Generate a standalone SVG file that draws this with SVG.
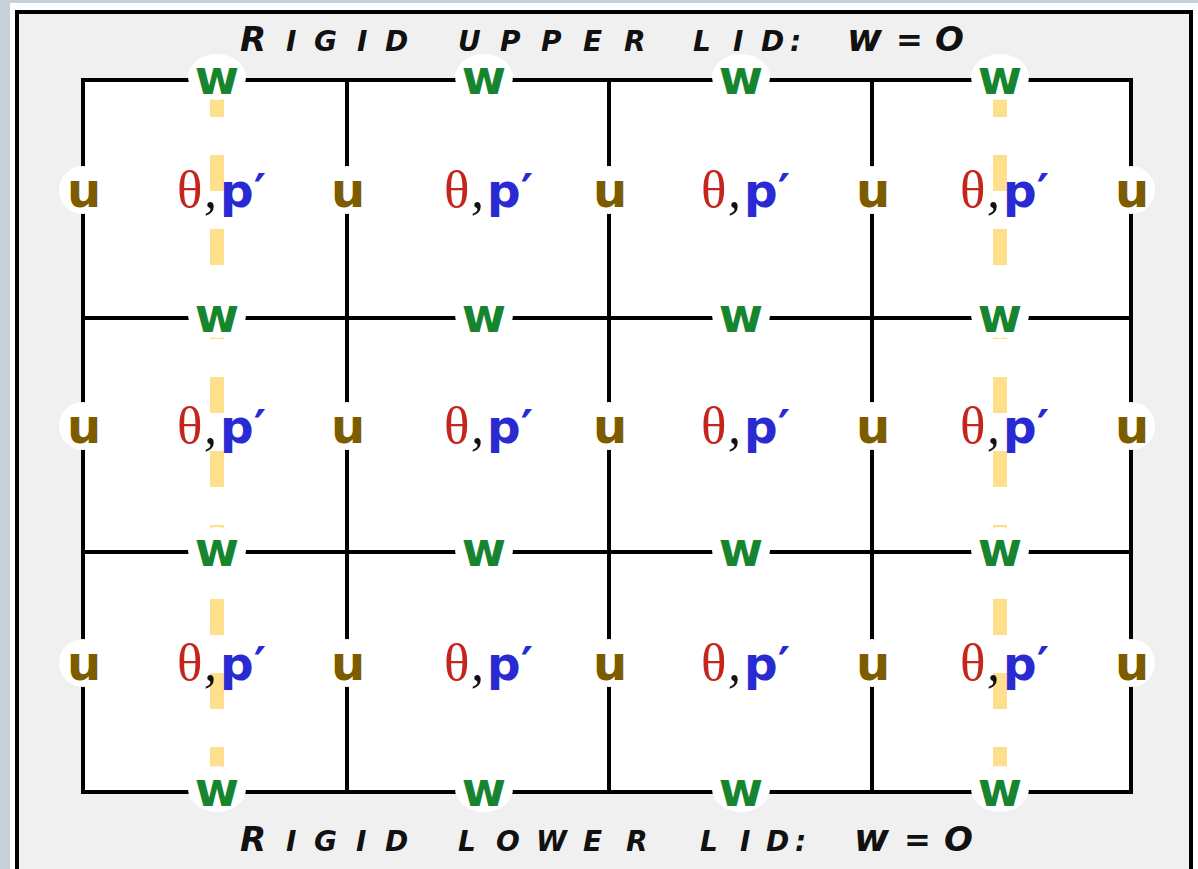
<svg xmlns="http://www.w3.org/2000/svg" width="1198" height="869" viewBox="0 0 1198 869">
<style>
.w{font-family:"DejaVu Sans",Verdana,sans-serif;font-weight:bold;font-size:48px;fill:#17852f;text-anchor:middle}
.u{font-family:"DejaVu Sans",Verdana,sans-serif;font-weight:bold;font-size:48px;fill:#7d5c00;text-anchor:middle}
.th{font-family:"Liberation Serif",serif;font-size:53px;fill:#c4261d}
.cm{font-family:"Liberation Serif",serif;font-style:italic;font-size:52px;fill:#111}
.p{font-family:"DejaVu Sans",Verdana,sans-serif;font-weight:bold;font-size:47px;fill:#2a2ad2}
.halo{fill:#fff}
.grid{stroke:#000;stroke-width:4;fill:none}
.dash{stroke:#fddf8c;stroke-width:14;stroke-dasharray:36 38;fill:none}
.title{font-family:"DejaVu Sans",sans-serif;font-weight:bold;font-style:oblique;fill:#111}
.big{font-size:34px}
.sm{font-size:28px}
.lw{font-size:38px}
.eq{font-size:32px}
</style>
<rect x="0" y="0" width="1198" height="869" fill="#fff"/>
<rect x="0" y="0" width="10" height="869" fill="#c6d1da"/>
<rect x="0" y="0" width="1198" height="3" fill="#c6d1da"/>
<rect x="17" y="12" width="1174" height="900" fill="#f0f0f0" stroke="#000" stroke-width="4"/>
<g id="title-upper">
<text class="title" y="51"><tspan class="big" x="240">R</tspan><tspan class="sm" x="286 314 357 385">IGID</tspan><tspan class="sm" x="430 458 500 541 583 624"> UPPER</tspan><tspan class="sm" x="670 693 733 761 790"> LID:</tspan><tspan class="lw" x="820 847"> w</tspan><tspan class="eq" x="884 896"> =</tspan><tspan class="big" x="927 935"> O</tspan></text>
</g>
<g id="title-lower">
<text class="title" y="851"><tspan class="big" x="240">R</tspan><tspan class="sm" x="286 314 356 385">IGID</tspan><tspan class="sm" x="430 458 496 536 583 626"> LOWER</tspan><tspan class="sm" x="675 700 740 766 795"> LID:</tspan><tspan class="lw" x="830 854"> w</tspan><tspan class="eq" x="891 904"> =</tspan><tspan class="big" x="935 944"> O</tspan></text>
</g>
<rect x="83" y="80" width="1048" height="712" fill="#fff"/>
<g id="staggered-columns">
<line class="dash" x1="217" y1="81" x2="217" y2="792"/>
<line class="dash" x1="1000" y1="81" x2="1000" y2="792"/>
</g>
<g id="connectors">
<rect class="grid" x="83" y="80" width="1048" height="712"/>
<line class="grid" x1="347" y1="80" x2="347" y2="792"/>
<line class="grid" x1="609" y1="80" x2="609" y2="792"/>
<line class="grid" x1="872" y1="80" x2="872" y2="792"/>
<line class="grid" x1="83" y1="318" x2="1131" y2="318"/>
<line class="grid" x1="83" y1="552" x2="1131" y2="552"/>
</g>
<g id="w-nodes">
<g id="w-0-0"><ellipse class="halo" cx="217" cy="77" rx="29" ry="23"/><text class="w" x="217" y="94">w</text></g>
<g id="w-0-1"><ellipse class="halo" cx="484" cy="77" rx="29" ry="23"/><text class="w" x="484" y="94">w</text></g>
<g id="w-0-2"><ellipse class="halo" cx="741" cy="77" rx="29" ry="23"/><text class="w" x="741" y="94">w</text></g>
<g id="w-0-3"><ellipse class="halo" cx="1000" cy="77" rx="29" ry="23"/><text class="w" x="1000" y="94">w</text></g>
<g id="w-1-0"><ellipse class="halo" cx="217" cy="315" rx="29" ry="23"/><text class="w" x="217" y="332">w</text></g>
<g id="w-1-1"><ellipse class="halo" cx="484" cy="315" rx="29" ry="23"/><text class="w" x="484" y="332">w</text></g>
<g id="w-1-2"><ellipse class="halo" cx="741" cy="315" rx="29" ry="23"/><text class="w" x="741" y="332">w</text></g>
<g id="w-1-3"><ellipse class="halo" cx="1000" cy="315" rx="29" ry="23"/><text class="w" x="1000" y="332">w</text></g>
<g id="w-2-0"><ellipse class="halo" cx="217" cy="550" rx="29" ry="23"/><text class="w" x="217" y="566">w</text></g>
<g id="w-2-1"><ellipse class="halo" cx="484" cy="550" rx="29" ry="23"/><text class="w" x="484" y="566">w</text></g>
<g id="w-2-2"><ellipse class="halo" cx="741" cy="550" rx="29" ry="23"/><text class="w" x="741" y="566">w</text></g>
<g id="w-2-3"><ellipse class="halo" cx="1000" cy="550" rx="29" ry="23"/><text class="w" x="1000" y="566">w</text></g>
<g id="w-3-0"><ellipse class="halo" cx="217" cy="789" rx="29" ry="23"/><text class="w" x="217" y="806">w</text></g>
<g id="w-3-1"><ellipse class="halo" cx="484" cy="789" rx="29" ry="23"/><text class="w" x="484" y="806">w</text></g>
<g id="w-3-2"><ellipse class="halo" cx="741" cy="789" rx="29" ry="23"/><text class="w" x="741" y="806">w</text></g>
<g id="w-3-3"><ellipse class="halo" cx="1000" cy="789" rx="29" ry="23"/><text class="w" x="1000" y="806">w</text></g>
</g>
<g id="u-nodes">
<g id="u-0-0"><circle class="halo" cx="83" cy="190" r="24"/><text class="u" x="84" y="207">u</text></g>
<g id="u-0-1"><circle class="halo" cx="347" cy="190" r="24"/><text class="u" x="348" y="207">u</text></g>
<g id="u-0-2"><circle class="halo" cx="609" cy="190" r="24"/><text class="u" x="610" y="207">u</text></g>
<g id="u-0-3"><circle class="halo" cx="872" cy="190" r="24"/><text class="u" x="873" y="207">u</text></g>
<g id="u-0-4"><circle class="halo" cx="1131" cy="190" r="24"/><text class="u" x="1132" y="207">u</text></g>
<g id="u-1-0"><circle class="halo" cx="83" cy="426" r="24"/><text class="u" x="84" y="443">u</text></g>
<g id="u-1-1"><circle class="halo" cx="347" cy="426" r="24"/><text class="u" x="348" y="443">u</text></g>
<g id="u-1-2"><circle class="halo" cx="609" cy="426" r="24"/><text class="u" x="610" y="443">u</text></g>
<g id="u-1-3"><circle class="halo" cx="872" cy="426" r="24"/><text class="u" x="873" y="443">u</text></g>
<g id="u-1-4"><circle class="halo" cx="1131" cy="426" r="24"/><text class="u" x="1132" y="443">u</text></g>
<g id="u-2-0"><circle class="halo" cx="83" cy="663" r="24"/><text class="u" x="84" y="680">u</text></g>
<g id="u-2-1"><circle class="halo" cx="347" cy="663" r="24"/><text class="u" x="348" y="680">u</text></g>
<g id="u-2-2"><circle class="halo" cx="609" cy="663" r="24"/><text class="u" x="610" y="680">u</text></g>
<g id="u-2-3"><circle class="halo" cx="872" cy="663" r="24"/><text class="u" x="873" y="680">u</text></g>
<g id="u-2-4"><circle class="halo" cx="1131" cy="663" r="24"/><text class="u" x="1132" y="680">u</text></g>
</g>
<g id="theta-p-nodes">
<g id="tp-0-0"><text y="207"><tspan class="th" x="177">θ</tspan><tspan class="cm" x="204">,</tspan><tspan class="p" x="220">p′</tspan></text></g>
<g id="tp-0-1"><text y="207"><tspan class="th" x="444">θ</tspan><tspan class="cm" x="471">,</tspan><tspan class="p" x="487">p′</tspan></text></g>
<g id="tp-0-2"><text y="207"><tspan class="th" x="701">θ</tspan><tspan class="cm" x="728">,</tspan><tspan class="p" x="744">p′</tspan></text></g>
<g id="tp-0-3"><text y="207"><tspan class="th" x="960">θ</tspan><tspan class="cm" x="987">,</tspan><tspan class="p" x="1003">p′</tspan></text></g>
<g id="tp-1-0"><text y="443"><tspan class="th" x="177">θ</tspan><tspan class="cm" x="204">,</tspan><tspan class="p" x="220">p′</tspan></text></g>
<g id="tp-1-1"><text y="443"><tspan class="th" x="444">θ</tspan><tspan class="cm" x="471">,</tspan><tspan class="p" x="487">p′</tspan></text></g>
<g id="tp-1-2"><text y="443"><tspan class="th" x="701">θ</tspan><tspan class="cm" x="728">,</tspan><tspan class="p" x="744">p′</tspan></text></g>
<g id="tp-1-3"><text y="443"><tspan class="th" x="960">θ</tspan><tspan class="cm" x="987">,</tspan><tspan class="p" x="1003">p′</tspan></text></g>
<g id="tp-2-0"><text y="680"><tspan class="th" x="177">θ</tspan><tspan class="cm" x="204">,</tspan><tspan class="p" x="220">p′</tspan></text></g>
<g id="tp-2-1"><text y="680"><tspan class="th" x="444">θ</tspan><tspan class="cm" x="471">,</tspan><tspan class="p" x="487">p′</tspan></text></g>
<g id="tp-2-2"><text y="680"><tspan class="th" x="701">θ</tspan><tspan class="cm" x="728">,</tspan><tspan class="p" x="744">p′</tspan></text></g>
<g id="tp-2-3"><text y="680"><tspan class="th" x="960">θ</tspan><tspan class="cm" x="987">,</tspan><tspan class="p" x="1003">p′</tspan></text></g>
</g>
</svg>
